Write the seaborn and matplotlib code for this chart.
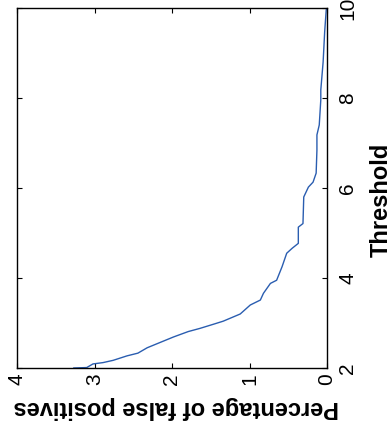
import matplotlib
matplotlib.use("Agg")
import matplotlib.pyplot as plt
import seaborn as sns
import pandas as pd

# Fraction of false positives as the detection threshold is raised
threshold = [2.00, 2.01, 2.09, 2.12, 2.17, 2.27, 2.33, 2.45, 2.57, 2.69,
             2.81, 2.88, 2.97, 3.04, 3.20, 3.40, 3.51, 3.66, 3.88, 3.95,
             4.25, 4.55, 4.66, 4.77, 5.13, 5.21, 5.80, 6.02, 6.13, 6.33,
             6.84, 7.18, 7.40, 7.96, 8.18, 8.80, 9.47, 9.96, 10.00]
false_pos_pct = [3.27, 3.10, 3.02, 2.89, 2.76, 2.58, 2.44, 2.32, 2.15, 1.98,
                 1.79, 1.64, 1.47, 1.34, 1.12, 0.99, 0.86, 0.82, 0.73, 0.65,
                 0.58, 0.52, 0.45, 0.37, 0.37, 0.31, 0.30, 0.24, 0.18, 0.14,
                 0.13, 0.13, 0.10, 0.08, 0.08, 0.05, 0.03, 0.01, 0.00]

threshold_ticks = [2, 4, 6, 8, 10]
pct_ticks = [0, 1, 2, 3, 4]

sns.set_theme(style="white")
plt.rcParams["font.family"] = ["Liberation Sans", "DejaVu Sans"]

df = pd.DataFrame({"Threshold": threshold, "Percentage": false_pos_pct})

fig = plt.figure(figsize=(3.91, 4.32), dpi=100)
ax = fig.add_axes([17 / 391, (432 - 368) / 432, 310 / 391, 360 / 432])

# Figure is laid out turned a quarter-turn: threshold runs upward, percentage runs leftward
sns.lineplot(data=df, x="Percentage", y="Threshold", sort=False, estimator=None,
             color="#2a5db0", linewidth=1.0, ax=ax)

ax.set_xlim(4, 0)
ax.set_ylim(2, 10)
ax.set_xticks(pct_ticks)
ax.set_xticklabels([str(v) for v in pct_ticks])
ax.set_yticks(threshold_ticks)
ax.set_yticklabels([str(v) for v in threshold_ticks])

ax.yaxis.tick_right()
ax.tick_params(axis="both", which="both", direction="in", length=3.5, width=0.8,
               color="black", labelsize=15, labelcolor="black",
               top=True, bottom=True, left=True, right=True)
ax.tick_params(axis="x", labelrotation=90, pad=4)
ax.tick_params(axis="y", labelrotation=90, pad=8)
for lbl in ax.get_yticklabels():
    lbl.set_va("center")

for s in ax.spines.values():
    s.set_visible(True)
    s.set_color("black")
    s.set_linewidth(1.0)

ax.set_xlabel("Percentage of false positives", fontsize=17, fontweight="bold",
              rotation=180, va="center", ha="center", color="black")
ax.xaxis.set_label_coords(0.514, -0.111)
ax.yaxis.set_label_position("right")
ax.set_ylabel("Threshold", fontsize=17, fontweight="bold", rotation=90,
              va="center", ha="center", color="black")
ax.yaxis.set_label_coords(1.174, 0.467)

fig.savefig("out.png", dpi=100)
